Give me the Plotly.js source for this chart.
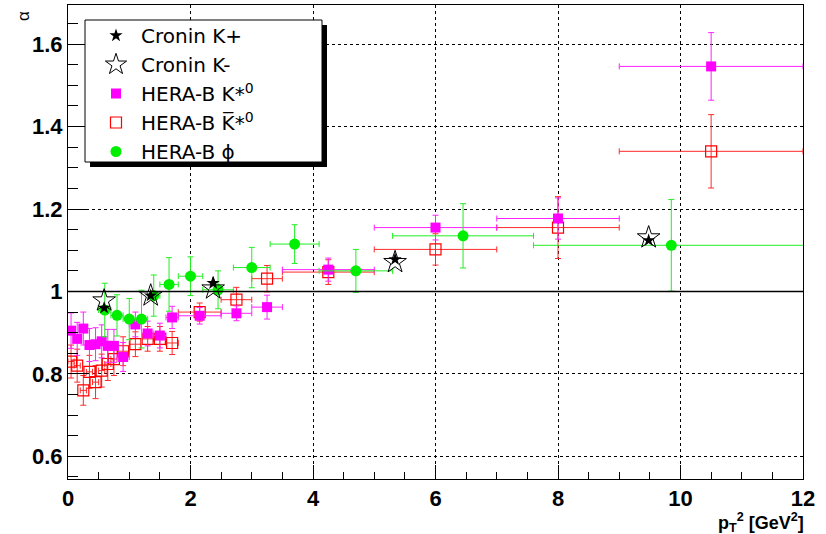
<!DOCTYPE html>
<html><head><meta charset="utf-8">
<script src="https://cdn.plot.ly/plotly-3.0.1.min.js"></script>
<style>html,body{margin:0;padding:0;background:#fff}</style>
</head><body><div id="chart" style="width:826px;height:534px"></div>
<script>
// Cronin data
const croninX = [0.59, 1.35, 2.37, 5.34, 9.48];
const croninKplusY = [0.960, 0.990, 1.020, 1.078, 1.124];
const croninKminusY = [0.978, 0.990, 1.007, 1.071, 1.131];

// HERA-B K*0 and anti-K*0 (same pT^2 bins)
const kX = [0.05, 0.15, 0.25, 0.35, 0.45, 0.55, 0.65, 0.75, 0.9, 1.1, 1.3, 1.5, 1.7, 2.15, 2.75, 3.25, 4.25, 6, 8, 10.5];
const kXerr = [0.05, 0.05, 0.05, 0.05, 0.05, 0.05, 0.05, 0.05, 0.1, 0.1, 0.1, 0.1, 0.1, 0.35, 0.25, 0.25, 0.75, 1, 1, 1.5];
const kstarY = [0.905, 0.885, 0.910, 0.870, 0.872, 0.879, 0.868, 0.868, 0.841, 0.920, 0.898, 0.893, 0.937, 0.941, 0.947, 0.962, 1.053, 1.155, 1.177, 1.546];
const kstarYerr = [0.043, 0.04, 0.04, 0.04, 0.04, 0.04, 0.04, 0.04, 0.035, 0.03, 0.03, 0.03, 0.027, 0.02, 0.018, 0.029, 0.028, 0.03, 0.05, 0.082];
const kbarY = [0.830, 0.820, 0.760, 0.805, 0.780, 0.808, 0.824, 0.836, 0.855, 0.872, 0.885, 0.885, 0.875, 0.950, 0.980, 1.031, 1.047, 1.102, 1.155, 1.340];
const kbarYerr = [0.04, 0.04, 0.036, 0.04, 0.04, 0.04, 0.04, 0.04, 0.035, 0.03, 0.03, 0.03, 0.028, 0.022, 0.03, 0.032, 0.03, 0.038, 0.075, 0.089];

// HERA-B phi
const phiX = [0.6, 0.8, 1.0, 1.2, 1.4, 1.65, 2.0, 2.45, 3.0, 3.7, 4.7, 6.45, 9.85];
const phiXerr = [0.1, 0.1, 0.1, 0.1, 0.1, 0.15, 0.2, 0.25, 0.3, 0.4, 0.6, 1.15, 2.25];
const phiY = [0.955, 0.942, 0.933, 0.933, 0.990, 1.017, 1.037, 1.004, 1.058, 1.115, 1.050, 1.135, 1.112];
const phiYerr = [0.065, 0.05, 0.05, 0.07, 0.05, 0.065, 0.047, 0.046, 0.049, 0.047, 0.052, 0.078, 0.111];

const names = ['Cronin K+', 'Cronin K-', 'HERA-B K*<sup>0</sup>', 'HERA-B K\u0305*<sup>0</sup>', 'HERA-B \u03D5'];

function eb(arr, color) {
  return {type: 'data', array: arr, visible: true, color: color, thickness: 1, width: 3};
}

const traces = [
  {x: kX, y: kbarY, name: names[3], legendrank: 4, type: 'scatter', mode: 'markers',
   marker: {symbol: 'square-open', size: 11, color: '#ff0000', line: {width: 1.2}},
   error_x: eb(kXerr, '#ff2a2a'), error_y: eb(kbarYerr, '#ff2a2a')},
  {x: kX, y: kstarY, name: names[2], legendrank: 3, type: 'scatter', mode: 'markers',
   marker: {symbol: 'square', size: 10, color: '#ff00ff'},
   error_x: eb(kXerr, '#ff22ff'), error_y: eb(kstarYerr, '#ff22ff')},
  {x: phiX, y: phiY, name: names[4], legendrank: 5, type: 'scatter', mode: 'markers',
   marker: {symbol: 'circle', size: 11, color: '#00ee00'},
   error_x: eb(phiXerr, '#22ee22'), error_y: eb(phiYerr, '#22ee22')},
  {x: croninX, y: croninKminusY, name: names[1], legendrank: 2, type: 'scatter', mode: 'markers',
   marker: {symbol: 'star-open', size: 17, color: '#000000', line: {width: 1}}},
  {x: croninX, y: croninKplusY, name: names[0], legendrank: 1, type: 'scatter', mode: 'markers',
   marker: {symbol: 'star', size: 10, color: '#000000'}}
];

const W = 735, H = 474;
function px2x(p) { return (p - 68) / W; }
function px2y(p) { return (479 - p) / H; }

const tickFont = {size: 22, weight: 'bold', family: 'Liberation Sans, Arial, sans-serif', color: '#000'};

const layout = {
  width: 826, height: 534,
  margin: {l: 68, r: 23, t: 5, b: 55},
  paper_bgcolor: '#ffffff', plot_bgcolor: '#ffffff',
  showlegend: true,
  font: {family: 'Liberation Sans, Arial, sans-serif', color: '#000'},
  xaxis: {
    range: [0, 12], dtick: 2, tick0: 0, ticks: 'inside', ticklen: 14, tickcolor: '#000',
    showline: true, linecolor: '#000', linewidth: 1, mirror: true,
    showgrid: true, gridcolor: '#000', griddash: 'dot', gridwidth: 1,
    zeroline: false, tickfont: tickFont,
    minor: {dtick: 0.5, ticks: 'inside', ticklen: 7, tickcolor: '#000', showgrid: false}
  },
  yaxis: {
    range: [0.545, 1.695], dtick: 0.2, tick0: 0, ticks: 'inside', ticklen: 20, tickcolor: '#000',
    showline: true, linecolor: '#000', linewidth: 1, mirror: true,
    showgrid: true, gridcolor: '#000', griddash: 'dot', gridwidth: 1,
    zeroline: false, tickfont: tickFont,
    minor: {dtick: 0.05, ticks: 'inside', ticklen: 10, tickcolor: '#000', showgrid: false}
  },
  legend: {
    x: px2x(91), y: px2y(16), xanchor: 'left', yanchor: 'top',
    bgcolor: 'rgba(0,0,0,0)', borderwidth: 0, itemwidth: 40,
    font: {size: 20, family: 'DejaVu Sans, sans-serif', color: '#000'},
    traceorder: 'normal'
  },
  shapes: [
    {type: 'line', xref: 'paper', yref: 'y', x0: 0, x1: 1, y0: 1, y1: 1, line: {color: '#000', width: 1.5}, layer: 'above'},
    {type: 'rect', xref: 'paper', yref: 'paper', x0: px2x(90), x1: px2x(327), y0: px2y(167), y1: px2y(25),
     fillcolor: '#000', line: {width: 0}, layer: 'above'},
    {type: 'rect', xref: 'paper', yref: 'paper', x0: px2x(85), x1: px2x(322), y0: px2y(162), y1: px2y(20),
     fillcolor: '#fff', line: {color: '#000', width: 1}, layer: 'above'}
  ],
  annotations: [
    {text: '\u03B1', xref: 'paper', yref: 'paper', x: px2x(23), y: px2y(16), textangle: -90,
     showarrow: false, xanchor: 'center', yanchor: 'middle', font: {size: 17}},
    {text: '<b>p<sub>T</sub><sup>2</sup> [GeV<sup>2</sup>]</b>', xref: 'paper', yref: 'paper', x: px2x(806), y: px2y(522),
     showarrow: false, xanchor: 'right', yanchor: 'middle', font: {size: 18}}
  ]
};

Plotly.newPlot('chart', traces, layout, {displayModeBar: false, staticPlot: true});
</script>
</body></html>
